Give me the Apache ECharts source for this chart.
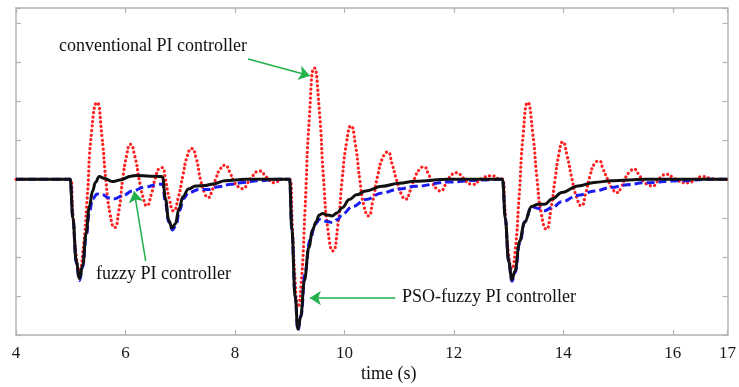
<!DOCTYPE html>
<html>
<head>
<meta charset="utf-8">
<script src="https://cdn.jsdelivr.net/npm/echarts@6/dist/echarts.min.js"></script>
<style>
  html, body { margin: 0; padding: 0; background: #fff; }
  #chart { width: 739px; height: 387px; }
</style>
</head>
<body>
<div id="chart"></div>
<script>
// x ticks / range
const xTicks = [4, 6, 8, 10, 12, 14, 16, 17]

// conventional PI controller (red dotted), [time, response]
const conventionalPI = [
  [4, 0], [4.99, 0], [5.04, -0.9], [5.1, -1.95], [5.16, -2.35], [5.22, -1.9], [5.3, -0.5], [5.38, 1.2],
  [5.48, 1.97], [5.57, 1.1], [5.64, 0], [5.72, -0.9], [5.8, -1.24], [5.88, -0.8], [5.95, 0], [6.02, 0.6],
  [6.09, 0.9], [6.17, 0.6], [6.25, 0], [6.32, -0.45], [6.39, -0.68], [6.47, -0.4], [6.55, 0.05], [6.62, 0.28],
  [6.67, 0.3], [6.73, 0], [6.8, -0.5], [6.88, -0.81], [6.96, -0.5], [7.05, 0.1], [7.13, 0.6], [7.21, 0.79],
  [7.29, 0.55], [7.37, 0], [7.44, -0.33], [7.51, -0.47], [7.58, -0.3], [7.66, 0.05], [7.74, 0.28], [7.82, 0.36],
  [7.9, 0.2], [7.98, -0.05], [8.07, -0.2], [8.15, -0.24], [8.23, -0.1], [8.32, 0.08], [8.45, 0.21], [8.58, 0.05],
  [8.73, -0.09], [8.85, 0], [9.0, 0],
  [9.05, -1.2], [9.1, -2.6], [9.15, -3.28], [9.21, -2.7], [9.28, -0.8], [9.36, 1.6], [9.45, 2.86], [9.54, 1.8],
  [9.62, 0], [9.7, -1.3], [9.79, -1.84], [9.88, -1.2], [9.96, 0], [10.04, 0.95], [10.12, 1.37], [10.2, 0.9],
  [10.28, 0], [10.36, -0.7], [10.44, -0.94], [10.52, -0.55], [10.61, 0.1], [10.7, 0.55], [10.79, 0.7], [10.87, 0.4],
  [10.95, 0], [11.04, -0.38], [11.12, -0.51], [11.2, -0.3], [11.29, 0.05], [11.37, 0.25], [11.45, 0.32], [11.53, 0.15],
  [11.61, -0.1], [11.69, -0.25], [11.76, -0.3], [11.84, -0.15], [11.92, 0.05], [12.0, 0.15], [12.06, 0.17], [12.14, 0.08],
  [12.22, -0.05], [12.3, -0.12], [12.36, -0.13], [12.45, -0.05], [12.55, 0.05], [12.7, 0.09], [12.8, 0.02], [12.89, 0],
  [12.94, -0.9], [13.0, -1.9], [13.06, -2.3], [13.12, -1.85], [13.19, -0.5], [13.27, 1.2], [13.35, 1.97], [13.44, 1.2],
  [13.52, 0], [13.6, -0.9], [13.69, -1.28], [13.77, -0.8], [13.85, 0], [13.92, 0.65], [13.99, 0.96], [14.07, 0.6],
  [14.16, 0], [14.24, -0.45], [14.33, -0.68], [14.41, -0.35], [14.49, 0.1], [14.57, 0.4], [14.65, 0.47], [14.73, 0.25],
  [14.81, 0], [14.9, -0.25], [14.98, -0.34], [15.06, -0.2], [15.14, 0.05], [15.22, 0.2], [15.29, 0.26], [15.38, 0.12],
  [15.46, -0.05], [15.55, -0.14], [15.63, -0.17], [15.72, -0.05], [15.8, 0.08], [15.88, 0.13], [16.0, 0.05], [16.1, -0.04],
  [16.28, -0.09], [16.42, 0], [16.55, 0.07], [16.7, 0.02], [16.85, 0], [17, 0]
]

// fuzzy PI controller (blue dashed)
const fuzzyPI = [
  [4, 0], [4.99, 0], [5.04, -1.0], [5.1, -2.15], [5.16, -2.6], [5.22, -2.25], [5.28, -1.5], [5.34, -0.85],
  [5.4, -0.5], [5.48, -0.38], [5.58, -0.4], [5.7, -0.48], [5.8, -0.5], [5.95, -0.42], [6.13, -0.3], [6.35, -0.2],
  [6.6, -0.13], [6.68, -0.12], [6.73, -0.6], [6.79, -1.1], [6.86, -1.3], [6.92, -1.2], [6.99, -0.8], [7.06, -0.5],
  [7.15, -0.35], [7.34, -0.26], [7.52, -0.26], [7.7, -0.19], [7.93, -0.13], [8.15, -0.08], [8.42, -0.04], [8.8, 0],
  [9.0, 0], [9.04, -1.3], [9.1, -3.0], [9.15, -3.88], [9.21, -3.5], [9.28, -2.4], [9.37, -1.55], [9.47, -1.15],
  [9.54, -1.03], [9.67, -1.08], [9.78, -1.11], [9.88, -1.03], [9.96, -0.9], [10.15, -0.7], [10.39, -0.52], [10.69, -0.35],
  [11.0, -0.25], [11.29, -0.18], [11.9, -0.07], [12.5, -0.02], [12.89, 0],
  [12.94, -1.0], [13.0, -2.1], [13.06, -2.62], [13.12, -2.4], [13.2, -1.65], [13.3, -1.08], [13.42, -0.7], [13.54, -0.75],
  [13.66, -0.81], [13.8, -0.72], [13.97, -0.58], [14.27, -0.41], [14.57, -0.3], [14.87, -0.21], [15.17, -0.14], [15.48, -0.09],
  [16.1, -0.04], [16.7, 0], [17, 0]
]

// PSO-fuzzy PI controller (black solid)
const psoFuzzyPI = [
  [4, 0], [4.99, 0], [5.04, -1.0], [5.1, -2.1], [5.16, -2.55], [5.22, -2.2], [5.28, -1.4], [5.34, -0.7],
  [5.4, -0.3], [5.45, -0.08], [5.52, 0.07], [5.62, 0.02], [5.76, -0.06], [5.9, -0.02], [6.1, 0.08], [6.2, 0.1],
  [6.45, 0.08], [6.66, 0.07], [6.68, 0.05], [6.73, -0.5], [6.79, -1.05], [6.85, -1.25], [6.91, -1.15], [6.98, -0.75],
  [7.05, -0.45], [7.15, -0.25], [7.28, -0.17], [7.45, -0.16], [7.6, -0.12], [7.82, -0.04], [8.2, 0], [9.0, 0],
  [9.04, -1.3], [9.1, -3.0], [9.15, -3.85], [9.2, -3.55], [9.27, -2.6], [9.35, -1.75], [9.42, -1.3], [9.48, -1.1],
  [9.54, -0.92], [9.6, -0.88], [9.7, -0.92], [9.78, -0.94], [9.87, -0.86], [9.96, -0.73], [10.09, -0.52], [10.22, -0.4],
  [10.39, -0.3], [10.69, -0.18], [11.0, -0.1], [11.29, -0.05], [11.9, 0], [12.89, 0],
  [12.94, -1.0], [13.0, -2.1], [13.06, -2.58], [13.12, -2.35], [13.2, -1.6], [13.29, -1.11], [13.42, -0.7], [13.54, -0.64],
  [13.66, -0.64], [13.8, -0.5], [13.97, -0.34], [14.27, -0.17], [14.57, -0.08], [14.87, -0.04], [15.5, 0], [17, 0]
]

// annotation arrows [from, to] in data coordinates
const arrowConventional = [[8.24, 3.09], [9.37, 2.66]]
const arrowFuzzy = [[6.37, -2.1], [6.16, -0.31]]
const arrowPso = [[10.93, -3.05], [9.37, -3.05]]

const frameColor = '#b3b3b3'
const serif = '"Liberation Serif", "DejaVu Serif", serif'

const chart = echarts.init(document.getElementById('chart'))

const frameAxis = (extra) => Object.assign({
  type: 'value',
  axisLine: { show: true, onZero: false, lineStyle: { color: frameColor, width: 1.5 } },
  axisTick: { show: true, inside: true, length: 5, lineStyle: { color: frameColor, width: 1.2 } },
  axisLabel: { show: false },
  splitLine: { show: false },
}, extra)

const option = {
  animation: false,
  backgroundColor: '#fff',
  grid: { left: 16, right: 6, top: 8, bottom: 52 },
  xAxis: [
    frameAxis({
      position: 'bottom', min: 4, max: 17, interval: 2,
      axisLabel: {
        show: true, color: '#1a1a1a', fontSize: 17, fontFamily: serif, margin: 10,
        formatter: v => (xTicks.includes(v) ? String(v) : ''),
      },
    }),
    frameAxis({ position: 'top', min: 4, max: 17, interval: 2 }),
  ],
  yAxis: [
    frameAxis({ position: 'left', min: -4, max: 4.4, interval: 1 }),
    frameAxis({ position: 'right', min: -4, max: 4.4, interval: 1 }),
  ],
  graphic: [
    { type: 'text', left: 59, top: 37, style: { text: 'conventional PI controller', font: `18px ${serif}`, fill: '#111' } },
    { type: 'text', left: 96, top: 265, style: { text: 'fuzzy PI controller', font: `18px ${serif}`, fill: '#111' } },
    { type: 'text', left: 402, top: 288, style: { text: 'PSO-fuzzy PI controller', font: `18px ${serif}`, fill: '#111' } },
    { type: 'text', left: 361, top: 365, style: { text: 'time (s)', font: `18px ${serif}`, fill: '#111' } },
  ],
  series: [
    {
      name: 'conventional PI controller',
      type: 'line',
      data: conventionalPI,
      showSymbol: false,
      smooth: 0.6,
      lineStyle: { color: '#ff1f1f', width: 3.2, type: [0.1, 4.4], cap: 'round' },
      z: 2,
    },
    {
      name: 'fuzzy PI controller',
      type: 'line',
      data: fuzzyPI,
      showSymbol: false,
      smooth: 0.4,
      smoothMonotone: 'x',
      lineStyle: { color: '#1c1cf0', width: 3, type: [8, 4] },
      z: 3,
    },
    {
      name: 'PSO-fuzzy PI controller',
      type: 'line',
      data: psoFuzzyPI,
      showSymbol: false,
      smooth: 0.4,
      smoothMonotone: 'x',
      lineStyle: { color: '#111', width: 3 },
      z: 4,
      markLine: {
        silent: true,
        symbol: ['none', 'arrow'],
        symbolSize: 11,
        label: { show: false },
        lineStyle: { color: '#22b04b', width: 1.5, type: 'solid' },
        data: [arrowConventional, arrowFuzzy, arrowPso].map(a => [{ coord: a[0] }, { coord: a[1] }]),
      },
    },
  ],
}

chart.setOption(option)
</script>
</body>
</html>
